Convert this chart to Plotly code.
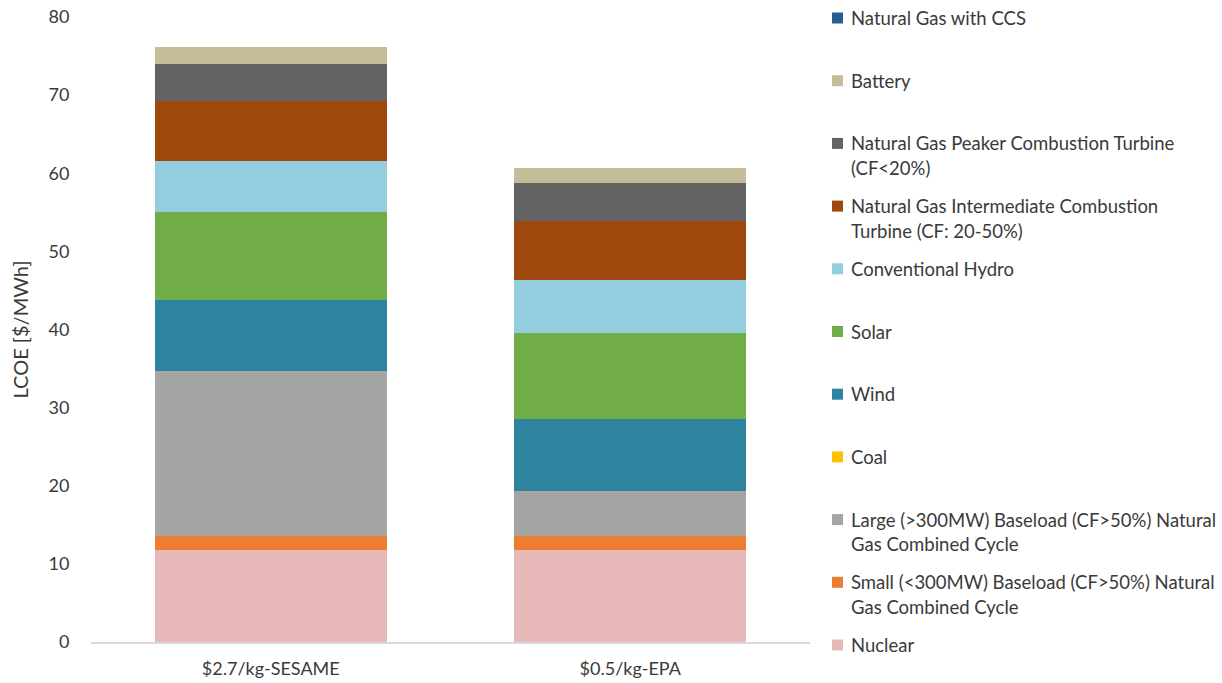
import html
import plotly.graph_objects as go

# Scenarios on the x axis
categories = ["$2.7/kg-SESAME", "$0.5/kg-EPA"]

# LCOE contributions [$/MWh] per technology, stacked bottom to top
nuclear = [11.8, 11.8]
small_ngcc = [1.8, 1.8]
large_ngcc = [21.1, 5.7]
coal = [0.0, 0.0]
wind = [9.1, 9.3]
solar = [11.2, 11.0]
hydro = [6.6, 6.7]
ng_intermediate = [7.7, 7.6]
ng_peaker = [4.7, 4.8]
battery = [2.1, 2.0]
ng_ccs = [0.0, 0.0]

series_names = [
    "Nuclear",
    "Small (<300MW) Baseload (CF>50%) Natural<br>Gas Combined Cycle",
    "Large (>300MW) Baseload (CF>50%) Natural<br>Gas Combined Cycle",
    "Coal",
    "Wind",
    "Solar",
    "Conventional Hydro",
    "Natural Gas Intermediate Combustion<br>Turbine (CF: 20-50%)",
    "Natural Gas Peaker Combustion Turbine<br>(CF<20%)",
    "Battery",
    "Natural Gas with CCS",
]
series_values = [nuclear, small_ngcc, large_ngcc, coal, wind, solar, hydro,
                 ng_intermediate, ng_peaker, battery, ng_ccs]
series_colors = ["#E6B9B8", "#ED7D31", "#A5A5A5", "#FFC000", "#2E849E",
                 "#70AD47", "#94CDDE", "#9E480E", "#636363", "#C4BD97", "#255E91"]

y_ticks = [0, 10, 20, 30, 40, 50, 60, 70, 80]

FONT = "Lato"
TEXT_COLOR = "#3A3A3A"

fig = go.Figure()
for name, vals, col in zip(series_names, series_values, series_colors):
    fig.add_trace(go.Bar(
        x=categories, y=vals, name=name.replace("<br>", " "),
        marker=dict(color=col, line=dict(width=0)),
        showlegend=False,
    ))

# Page geometry (pixels) used to place the hand-drawn legend
W, H = 1222, 683
ml, mr, mt, mb = 91, 412, 17, 41
pw, ph = W - ml - mr, H - mt - mb


def px_to_paper_x(px):
    return (px - ml) / pw


def px_to_paper_y(py):
    return (H - mb - py) / ph


# Legend listed top to bottom in reverse stacking order
annotations = []
shapes = []
first_row = 18.0
row_step = 62.7
line_step = 24.5
for i, (name, col) in enumerate(zip(series_names[::-1], series_colors[::-1])):
    cy = first_row + row_step * i
    shapes.append(dict(
        type="rect", xref="paper", yref="paper",
        x0=px_to_paper_x(832), x1=px_to_paper_x(843),
        y0=px_to_paper_y(cy + 5.5), y1=px_to_paper_y(cy - 5.5),
        fillcolor=col, line=dict(width=0),
    ))
    for j, line in enumerate(name.split("<br>")):
        annotations.append(dict(
            xref="paper", yref="paper",
            x=px_to_paper_x(849), y=px_to_paper_y(cy + line_step * j),
            xanchor="left", yanchor="middle",
            text=html.escape(line), showarrow=False,
            font=dict(family=FONT, size=18.5, color=TEXT_COLOR),
        ))

fig.update_layout(
    barmode="stack",
    bargap=0.355,
    width=W, height=H,
    margin=dict(l=ml, r=mr, t=mt, b=mb, pad=0, autoexpand=False),
    paper_bgcolor="white",
    plot_bgcolor="white",
    font=dict(family=FONT, size=18, color=TEXT_COLOR),
    annotations=annotations,
    shapes=shapes,
    xaxis=dict(
        automargin=False,
        showline=True, linecolor="#D9D9D9", linewidth=1.5,
        ticks="outside", ticklen=10, tickcolor="rgba(0,0,0,0)",
        tickfont=dict(family=FONT, size=18, color=TEXT_COLOR),
        showgrid=False, zeroline=False,
    ),
    yaxis=dict(
        automargin=False,
        range=[0, 80], tickvals=y_ticks,
        showline=False, showgrid=False, zeroline=False,
        ticks="outside", ticklen=17, tickcolor="rgba(0,0,0,0)",
        tickfont=dict(family=FONT, size=18, color=TEXT_COLOR),
        title=dict(text="LCOE [$/MWh]", standoff=14,
                   font=dict(family=FONT, size=20, color=TEXT_COLOR)),
    ),
)

fig.write_html("out.html")
